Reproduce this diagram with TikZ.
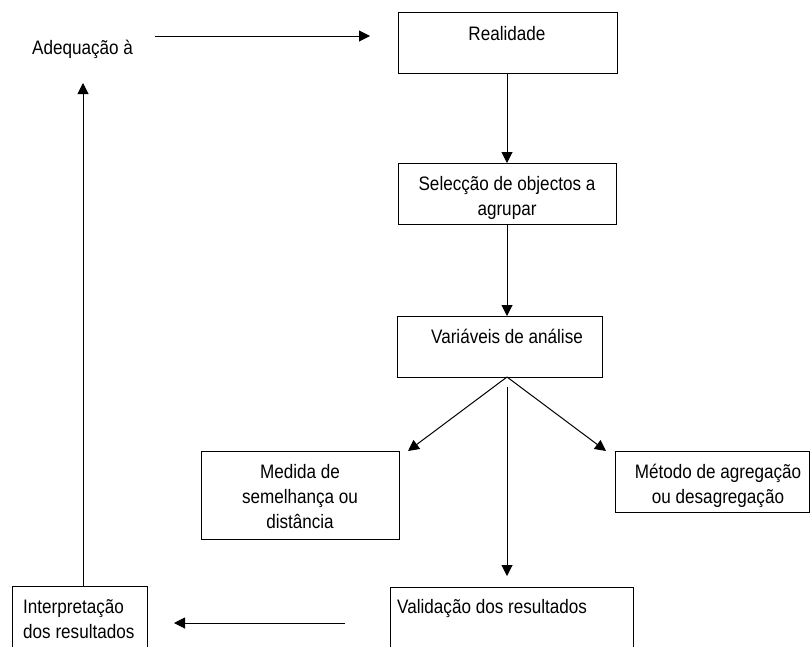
\documentclass[tikz,border=0pt]{standalone}
\usepackage{fontspec}
\setmainfont{Liberation Sans}[FakeStretch=0.877]
\usetikzlibrary{arrows.meta}
\tikzset{
  box/.style={draw, line width=1pt, inner sep=0pt, anchor=north west},
  lbl/.style={inner sep=0pt, font=\fontsize{19.5}{25}\selectfont},
  conn/.style={line width=1pt, -{Triangle[length=11pt,width=11pt]}}
}
\begin{document}
\begin{tikzpicture}[x=1pt,y=-1pt]
\clip (0,0) rectangle (811,646);
\fill[white] (0,0) rectangle (811,646);
% boxes
\node[box, minimum width=219pt, minimum height=61pt] (real) at (398,12) {};
\node[box, minimum width=218pt, minimum height=61pt] (sel) at (398,163) {};
\node[box, minimum width=205pt, minimum height=61pt] (var) at (397,316) {};
\node[box, minimum width=198pt, minimum height=88pt] (med) at (201,451) {};
\node[box, minimum width=194pt, minimum height=61pt] (met) at (615,451) {};
\node[box, minimum width=135pt, minimum height=90pt] (interp) at (12,586) {};
\node[box, minimum width=243pt, minimum height=90pt] (valid) at (390,587) {};
% texts (anchor=base is the baseline of the last line)
\node[lbl, anchor=base west] (adeq) at (32,54) {Adequação à};
\node[lbl, anchor=base] (realt) at (507,40) {Realidade};
\node[lbl, anchor=base, align=center] (selt) at (507,215) {Selecção de objectos a\\agrupar};
\node[lbl, anchor=base] (vart) at (507,343) {Variáveis de análise};
\node[lbl, anchor=base, align=center] (medt) at (300,528) {Medida de\\semelhança ou\\distância};
\node[lbl, anchor=base, align=center] (mett) at (718,503) {Método de agregação\\ou desagregação};
\node[lbl, anchor=base west, align=left] (interpt) at (23,638) {Interpretação\\dos resultados};
\node[lbl, anchor=base west] (validt) at (397,613) {Validação dos resultados};
% connector ends
\coordinate (a1) at (155,36);
\coordinate (a2) at (370,36);
\coordinate (apex) at (507,377);
\coordinate (medtip) at (408,451);
\coordinate (mettip) at (606,451);
\coordinate (vstart) at (507,387);
\coordinate (vend) at (507,576);
\coordinate (l1) at (345,623);
\coordinate (l2) at (174,623);
\coordinate (upend) at (83,83);
% connectors
\draw[conn] (a1) -- (a2);
\draw[conn] (507,73) coordinate (rs) -- (rs |- sel.north);
\draw[conn] (507,224) coordinate (ss) -- (ss |- var.north);
\draw[conn] (apex) -- (medtip);
\draw[conn] (apex) -- (mettip);
\draw[conn] (vstart) -- (vend);
\draw[conn] (l1) -- (l2);
\draw[conn] (interp.north -| upend) -- (upend);
\end{tikzpicture}
\end{document}
